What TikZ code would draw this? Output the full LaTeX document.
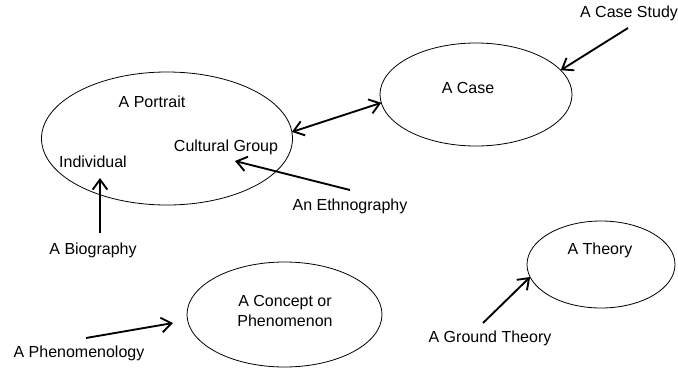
\documentclass[tikz,border=0pt]{standalone}
\usepackage{fontspec}
\setmainfont{Liberation Sans}
\usetikzlibrary{shapes.geometric,arrows.meta}
\tikzset{
    area/.style={draw, ellipse, line width=0.6pt, inner sep=0pt, outer sep=0pt},
    term/.style={font=\fontsize{12pt}{15pt}\selectfont, inner sep=0pt, align=center},
    arr/.style={line width=1.4pt, -{Straight Barb[length=7.5pt,width=11pt]}},
    twoarr/.style={line width=1.4pt, {Straight Barb[length=7.5pt,width=11pt]}-{Straight Barb[length=7.5pt,width=11pt]}}
}
\begin{document}
\begin{tikzpicture}[x=0.75pt, y=-0.75pt]
    \useasboundingbox (0, 0) rectangle (678, 372);
    \node[area, minimum width=188.25pt, minimum height=99.75pt] (portrait) at (167, 138.5) {};
    \node[area, minimum width=144pt, minimum height=77.25pt] (case) at (476, 94.5) {};
    \node[area, minimum width=146.25pt, minimum height=78.75pt] (concept) at (284.5, 314.5) {};
    \node[area, minimum width=111pt, minimum height=65.25pt] (theory) at (601, 264.5) {};
    \node[term] (portrait text) at (152, 102) {A Portrait};
    \node[term] (cultural) at (226, 147) {Cultural Group};
    \node[term] (indiv) at (93, 162) {Individual};
    \node[term] (case text) at (468, 88) {A Case};
    \node[term] (case study) at (629, 13) {A Case Study};
    \node[term] (ethno) at (350, 206) {An Ethnography};
    \node[term] (bio) at (93, 250) {A Biography};
    \node[term] (concept text) at (285, 311) {A Concept or\\Phenomenon};
    \node[term] (phen) at (79, 353) {A Phenomenology};
    \node[term] (theory text) at (600, 250) {A Theory};
    \node[term] (ground) at (490, 338) {A Ground Theory};
    \coordinate (bio tail) at (100, 233);
    \coordinate (indiv tip) at (100, 178);
    \coordinate (ethno tail) at (350, 190);
    \coordinate (cultural tip) at (235, 161);
    \coordinate (study tail) at (628, 28);
    \coordinate (phen tail) at (86, 338);
    \coordinate (phen tip) at (173, 323);
    \coordinate (ground tail) at (483, 323);
    \draw[arr] (bio tail) -- (indiv tip);
    \draw[arr] (ethno tail) -- (cultural tip);
    \draw[twoarr] (portrait.3) -- (case.185);
    \draw[arr] (study tail) -- (case.16);
    \draw[arr] (phen tail) -- (phen tip);
    \draw[arr] (ground tail) -- (theory.190);
\end{tikzpicture}
\end{document}
